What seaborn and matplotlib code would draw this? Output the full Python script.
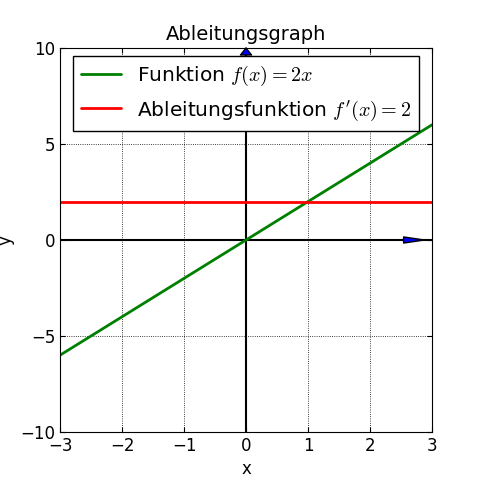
import matplotlib
matplotlib.use("Agg")
import matplotlib.pyplot as plt
import seaborn as sns
import pandas as pd

x_vals = [-3, 3]
f_vals = [-6, 6]
df_vals = [2, 2]
xticks = [-3, -2, -1, 0, 1, 2, 3]
yticks = [-10, -5, 0, 5, 10]

sns.set_style("ticks")
plt.rcParams['font.family'] = ['DejaVu Sans']
plt.rcParams['mathtext.fontset'] = 'cm'
plt.rcParams['text.color'] = 'black'
plt.rcParams['axes.labelcolor'] = 'black'
plt.rcParams['xtick.color'] = 'black'
plt.rcParams['ytick.color'] = 'black'

fig = plt.figure(figsize=(4.8, 4.8), dpi=100)
ax = fig.add_axes([0.125, 0.1, 0.775, 0.8])
data = pd.DataFrame({"x": x_vals, "f": f_vals, "d": df_vals})
sns.lineplot(data=data, x="x", y="f", ax=ax, color="green", lw=2, label=r"Funktion $f(x) = 2x$")
sns.lineplot(data=data, x="x", y="d", ax=ax, color="red", lw=2, label=r"Ableitungsfunktion $f'(x) = 2$")
ax.axhline(0, color="black", lw=1.5, zorder=1)
ax.axvline(0, color="black", lw=1.5, zorder=1)
ax.annotate("", xy=(3, 0), xytext=(2.6, 0), arrowprops=dict(arrowstyle="-|>,head_length=1.5,head_width=0.22", fc="blue", ec="black", lw=1), annotation_clip=False, zorder=6)
ax.annotate("", xy=(0, 10.2), xytext=(0, 9.5), arrowprops=dict(arrowstyle="-|>,head_length=0.5,head_width=0.4", fc="blue", ec="black", lw=1), annotation_clip=False, zorder=6)
ax.set_xlim(-3, 3)
ax.set_ylim(-10, 10)
ax.set_xticks(xticks)
ax.set_yticks(yticks)
ax.set_xticklabels(["\u2212" + str(-t) if t < 0 else str(t) for t in xticks], fontsize=12)
ax.set_yticklabels(["\u2212" + str(-t) if t < 0 else str(t) for t in yticks], fontsize=12)
ax.grid(True, color="black", ls=":", lw=0.6)
ax.tick_params(direction="in", top=True, right=True)
for s in ax.spines.values():
    s.set_color("black")
ax.set_xlabel("x", fontsize=12)
ax.set_ylabel("y", fontsize=12)
ax.set_title("Ableitungsgraph", fontsize=14)
ax.legend(loc="upper center", fontsize=14.5, frameon=True, fancybox=False, edgecolor="black", framealpha=1, borderaxespad=0.4)
fig.savefig("out.png", dpi=100)
